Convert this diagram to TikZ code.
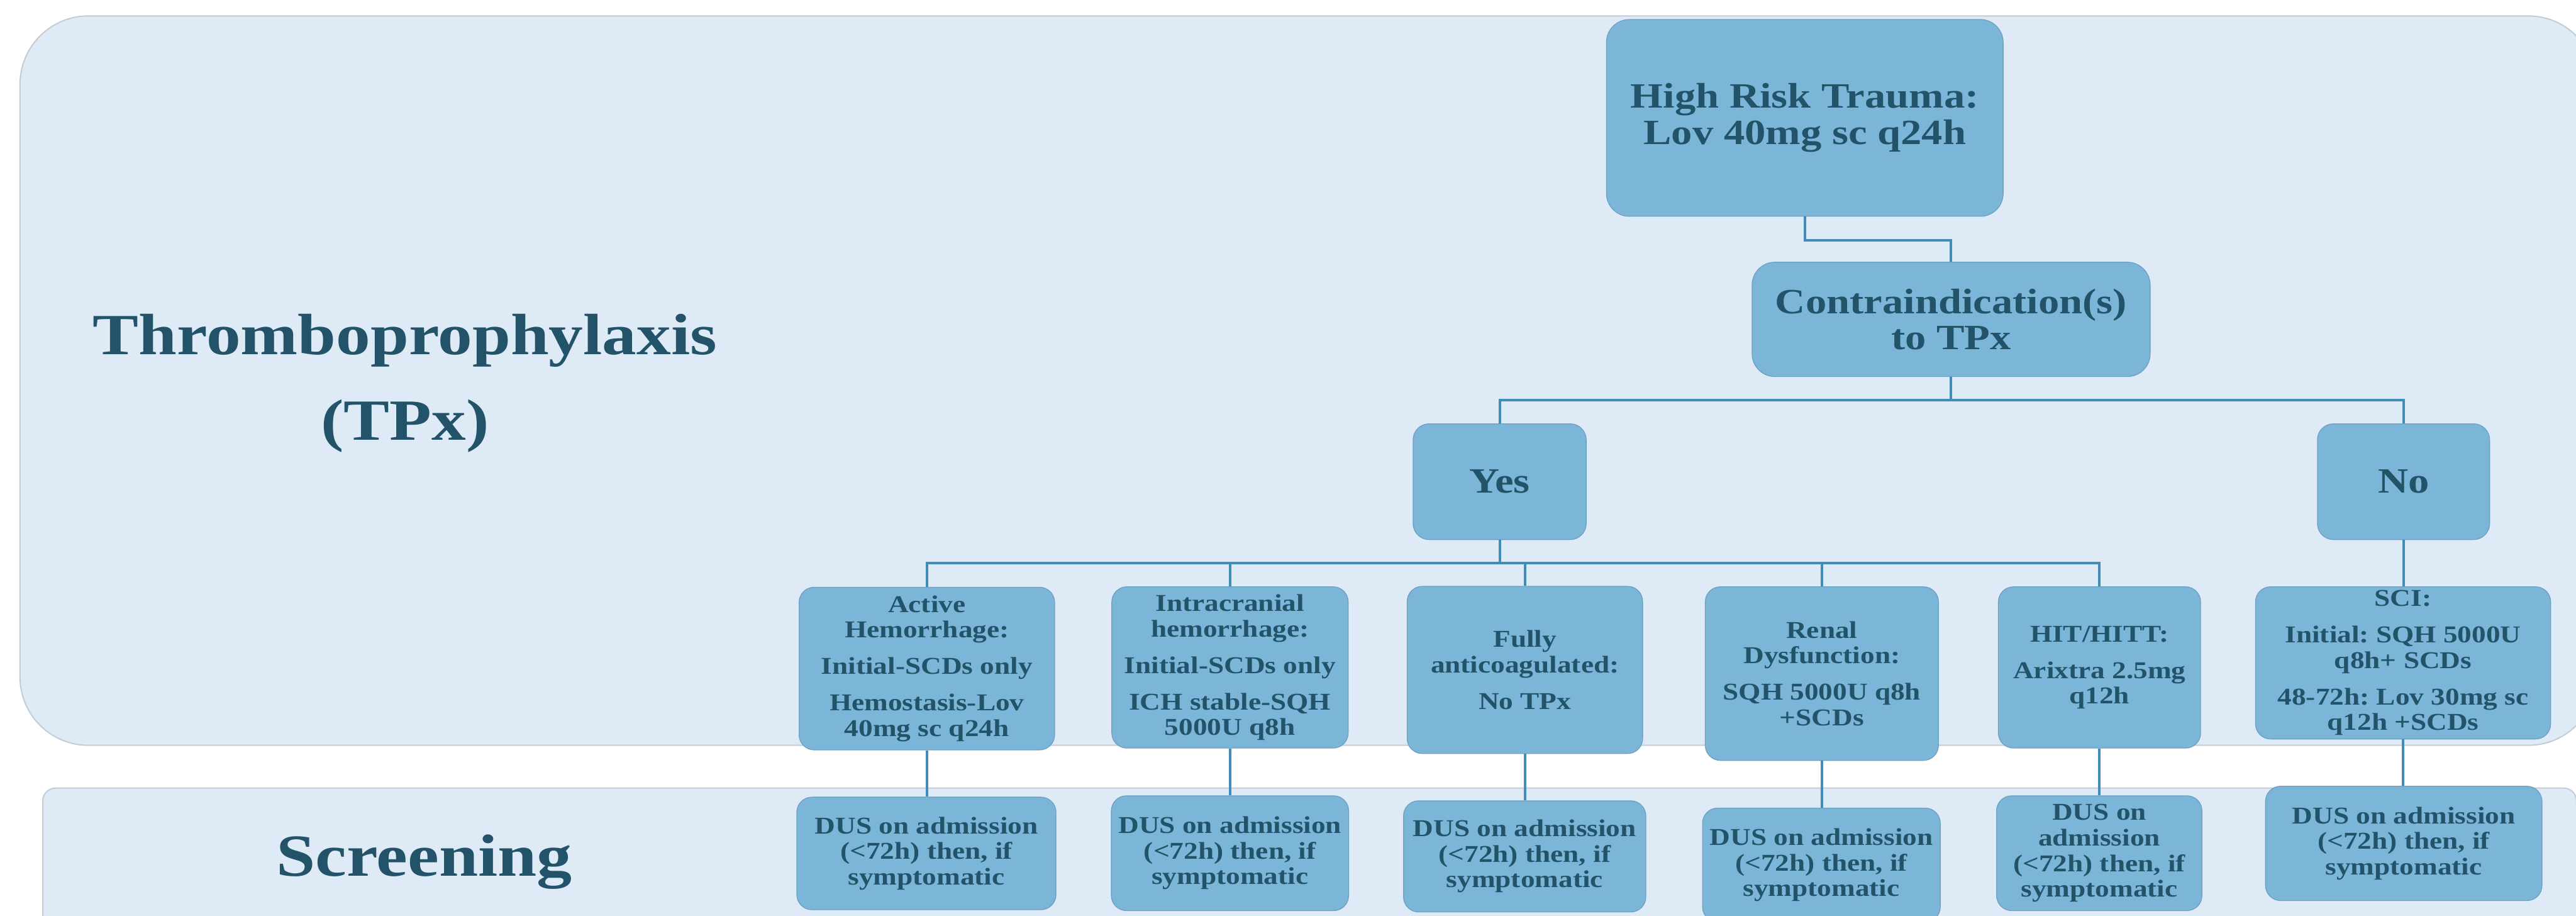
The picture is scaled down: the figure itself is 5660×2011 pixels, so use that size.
\documentclass[tikz,border=0pt]{standalone}
\usepackage{fontspec}
\newfontfamily\dfont[FakeStretch=1.18]{Liberation Serif}
\usetikzlibrary{calc}
\definecolor{panelfill}{RGB}{222,234,246}
\definecolor{paneledge}{RGB}{196,204,214}
\definecolor{bxmain}{RGB}{123,182,217}
\definecolor{bxtop}{RGB}{140,208,248}
\definecolor{bxbot}{RGB}{104,146,176}
\definecolor{bxedge}{RGB}{108,160,194}
\definecolor{linkcol}{RGB}{66,140,186}
\definecolor{txt}{RGB}{34,83,104}
\pgfdeclareverticalshading{boxsh}{100bp}{color(0bp)=(bxbot); color(5bp)=(bxmain); color(94bp)=(bxmain); color(100bp)=(bxtop)}
\newcommand\smallf{\frenchspacing\dfont\bfseries\fontsize{15.08pt}{15.93pt}\selectfont}
\newcommand\midf{\frenchspacing\dfont\bfseries\fontsize{22.19pt}{22.76pt}\selectfont}
\newcommand\titlef{\dfont\bfseries\fontsize{36.4pt}{53.5pt}\selectfont}
\newcommand\scrf{\dfont\bfseries\fontsize{37.27pt}{44pt}\selectfont}
\newcommand\pg{\\[6.83pt]}
\begin{document}
\begin{tikzpicture}[x=0.01cm, y=-0.01cm,
  panel/.style={fill=panelfill, draw=paneledge, line width=0.8pt},
  bx/.style={shading=boxsh, shade, draw=bxedge, line width=0.5pt, rounded corners=0.33cm, inner sep=0pt, align=center, text=txt, font=\smallf},
  bigbx/.style={bx, rounded corners=0.5cm, font=\midf},
  link/.style={draw=linkcol, line width=1.55pt},
  lbl/.style={text=txt, align=center, inner sep=0pt}
]
\useasboundingbox (0,0) rectangle (5660,2011);
\clip (0,0) rectangle (5660,2011);
\fill[white] (0,0) rectangle (5660,2011);

% panels
\draw[panel, rounded corners=1.5cm] (44,35) rectangle (5705,1637);
\draw[panel, rounded corners=0.28cm] (94,1731) rectangle (5661,2120);

% panel labels
\node[lbl, font=\titlef] (title) at (890,842) {Thromboprophylaxis\\(TPx)};
\node[lbl, font=\scrf, anchor=base] (scr) at (932,1924) {Screening};

% boxes
\node[bigbx, minimum width=8.71cm, minimum height=4.32cm] (top) at (3965.5,259) {High Risk Trauma:\\Lov 40mg sc q24h};
\node[bigbx, minimum width=8.74cm, minimum height=2.51cm] (contra) at (4287,701.5) {Contraindication(s)\\to TPx};
\node[bigbx, rounded corners=0.35cm, minimum width=3.80cm, minimum height=2.54cm] (yes) at (3295,1058) {Yes};
\node[bigbx, rounded corners=0.35cm, minimum width=3.78cm, minimum height=2.54cm] (no) at (5281,1058) {No};

\node[bx, minimum width=5.61cm, minimum height=3.57cm] (ah) at (2036.5,1468.5) {Active\\Hemorrhage:\pg Initial-SCDs only\pg Hemostasis-Lov\\40mg sc q24h};
\node[bx, minimum width=5.19cm, minimum height=3.54cm] (ich) at (2702.5,1466) {Intracranial\\hemorrhage:\pg Initial-SCDs only\pg ICH stable-SQH\\5000U q8h};
\node[bx, minimum width=5.17cm, minimum height=3.67cm] (fa) at (3350.5,1471.5) {Fully\\anticoagulated:\pg No TPx};
\node[bx, minimum width=5.12cm, minimum height=3.81cm] (renal) at (4003,1479.5) {Renal\\Dysfunction:\pg SQH 5000U q8h\\+SCDs};
\node[bx, minimum width=4.44cm, minimum height=3.54cm] (hit) at (4613,1466) {HIT/HITT:\pg Arixtra 2.5mg\\q12h};
\node[bx, minimum width=6.48cm, minimum height=3.34cm] (sci) at (5280,1456) {SCI:\pg Initial: SQH 5000U\\q8h+ SCDs\pg 48-72h: Lov 30mg sc\\q12h +SCDs};

\node[bx, minimum width=5.69cm, minimum height=2.47cm] (d1) at (2035.5,1874.5) {DUS on admission\\(<72h) then, if\\symptomatic};
\node[bx, minimum width=5.21cm, minimum height=2.52cm] (d2) at (2702.5,1874) {DUS on admission\\(<72h) then, if\\symptomatic};
\node[bx, minimum width=5.32cm, minimum height=2.44cm] (d3) at (3350,1881) {DUS on admission\\(<72h) then, if\\symptomatic};
\node[bx, minimum width=5.22cm, minimum height=2.50cm] (d4) at (4002,1900) {DUS on admission\\(<72h) then, if\\symptomatic};
\node[bx, minimum width=4.51cm, minimum height=2.52cm] (d5) at (4612.5,1874) {DUS on\\admission\\(<72h) then, if\\symptomatic};
\node[bx, minimum width=6.07cm, minimum height=2.51cm] (d6) at (5281.5,1852.5) {DUS on admission\\(<72h) then, if\\symptomatic};

% connectors
\coordinate (j0) at (4287,528);
\draw[link] (top.south) |- (j0) -- (contra.north);
\coordinate (j1) at (4287,879);
\draw[link] (contra.south) -- (j1);
\draw[link] (yes.north) |- (j1);
\draw[link] (no.north) |- (j1);
\coordinate (j2) at (3295,1237);
\draw[link] (yes.south) -- (j2);
\foreach \n in {ah,ich,fa,renal,hit} {\draw[link] (\n.north) |- (j2);}
\draw[link] (no.south) -- (no.south |- sci.north);
\draw[link] (ah.south) -- (ah.south |- d1.north);
\draw[link] (ich.south) -- (ich.south |- d2.north);
\draw[link] (fa.south) -- (fa.south |- d3.north);
\draw[link] (renal.south) -- (renal.south |- d4.north);
\draw[link] (hit.south) -- (hit.south |- d5.north);
\draw[link] (sci.south) -- (sci.south |- d6.north);
\end{tikzpicture}
\end{document}
